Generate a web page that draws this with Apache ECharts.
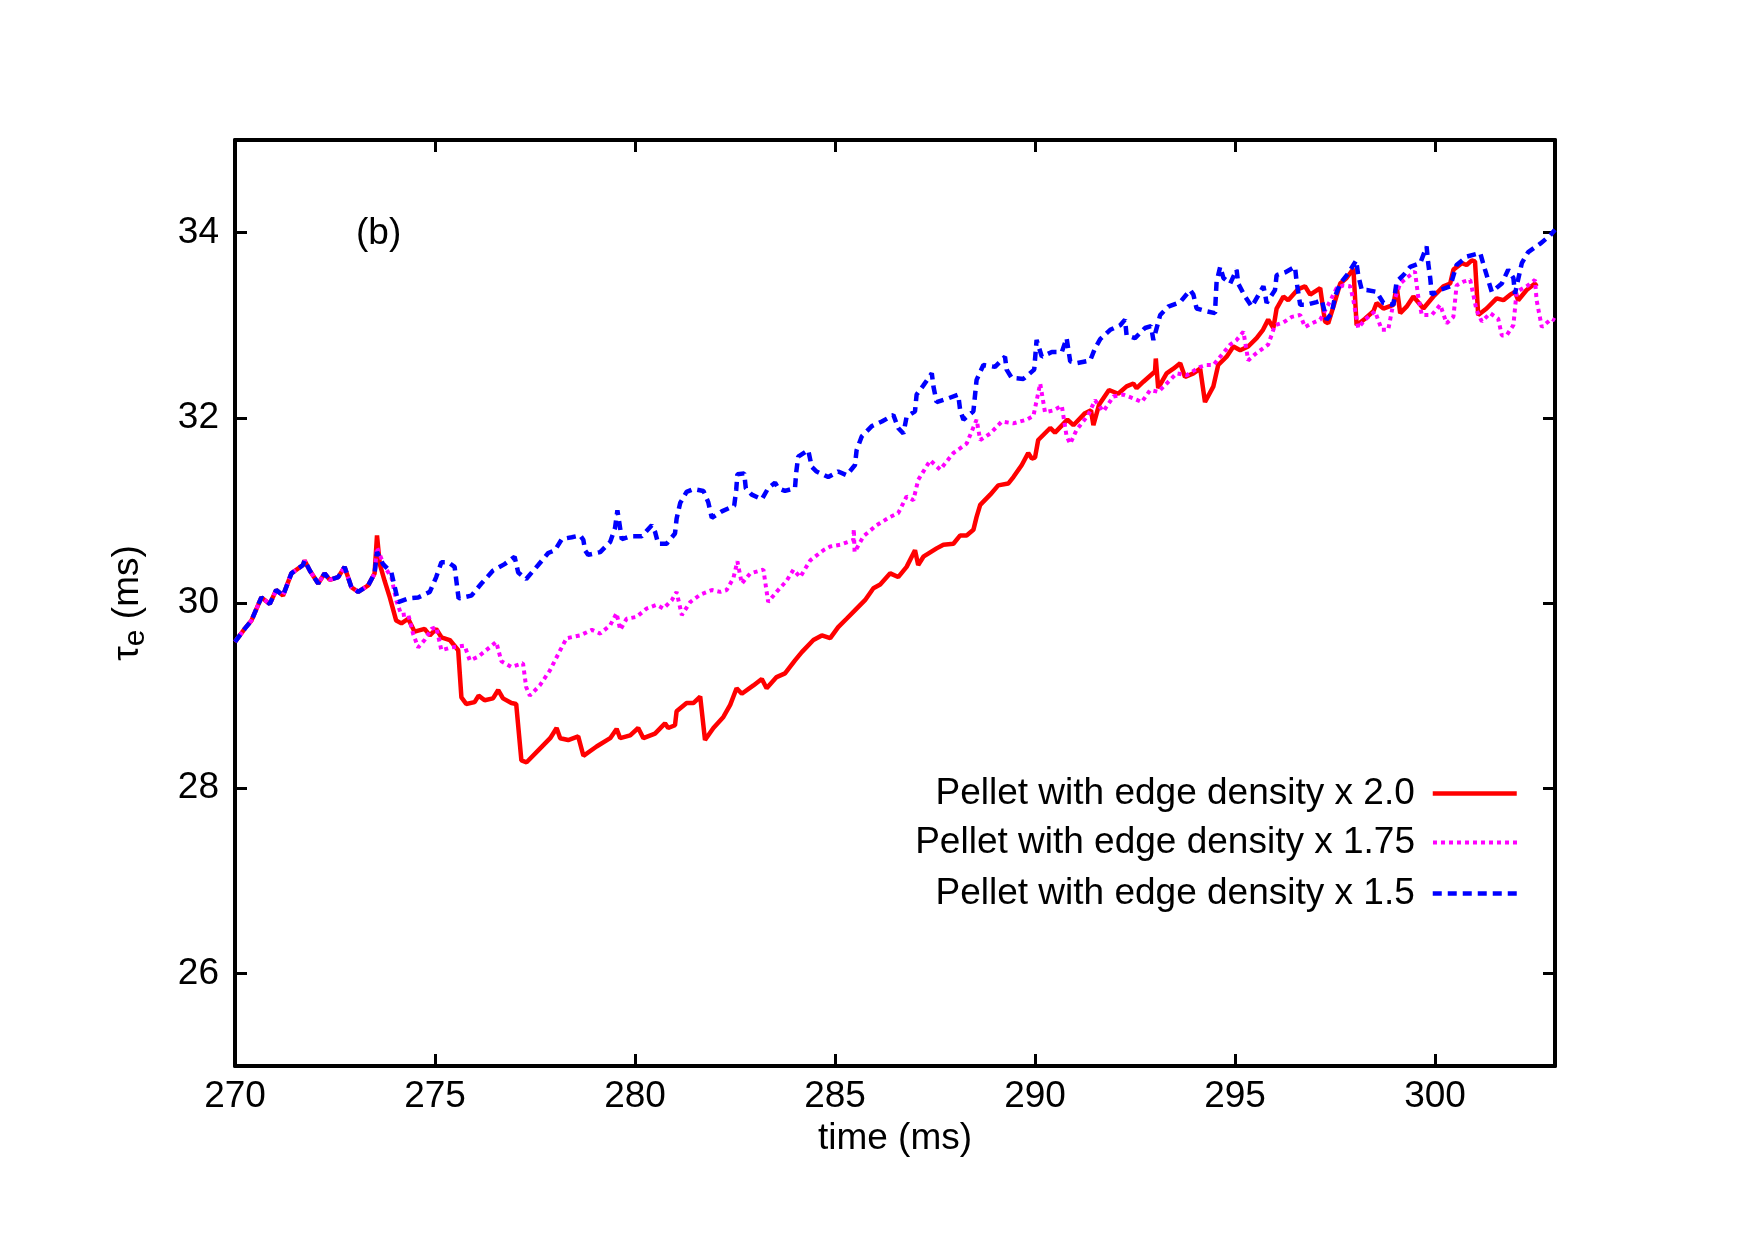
<!DOCTYPE html>
<html>
<head>
<meta charset="utf-8">
<script src="https://cdn.jsdelivr.net/npm/echarts@6/dist/echarts.min.js"></script>
<style>
  html, body { margin: 0; padding: 0; background: #fff; }
  #chart { width: 1755px; height: 1240px; }
</style>
</head>
<body>
<div id="chart"></div>
<script>
// tau_e (ms) against time (ms)

// all three runs share this stretch before the pellet
const common = [
  [270.0, 29.58], [270.24, 29.72], [270.41, 29.81], [270.66, 30.06], [270.87, 29.99],
  [271.03, 30.14], [271.2, 30.08], [271.41, 30.32], [271.7, 30.41], [271.74, 30.46],
  [271.87, 30.35], [272.08, 30.21], [272.24, 30.32], [272.37, 30.25], [272.58, 30.28],
  [272.74, 30.39], [272.91, 30.17], [273.08, 30.12], [273.33, 30.19], [273.49, 30.32]
];

const red = [
  [273.55, 30.73], [273.62, 30.42], [273.74, 30.24], [273.87, 30.06], [274.03, 29.81],
  [274.16, 29.78], [274.33, 29.83], [274.49, 29.69], [274.74, 29.72], [274.87, 29.65],
  [275.03, 29.72], [275.16, 29.63], [275.37, 29.6], [275.58, 29.49], [275.66, 28.98],
  [275.78, 28.91], [275.99, 28.93], [276.09, 29.0], [276.24, 28.95], [276.45, 28.97],
  [276.58, 29.06], [276.7, 28.97], [276.91, 28.92], [277.03, 28.91], [277.16, 28.3],
  [277.29, 28.28], [277.63, 28.43], [277.88, 28.54], [278.04, 28.65], [278.13, 28.54],
  [278.33, 28.52], [278.58, 28.56], [278.71, 28.35], [279.04, 28.45], [279.38, 28.54],
  [279.54, 28.64], [279.63, 28.54], [279.88, 28.57], [280.08, 28.65], [280.21, 28.54],
  [280.5, 28.59], [280.75, 28.7], [280.83, 28.65], [281.0, 28.68], [281.04, 28.83],
  [281.29, 28.92], [281.46, 28.92], [281.63, 28.99], [281.75, 28.52], [281.96, 28.65],
  [282.21, 28.77], [282.38, 28.9], [282.54, 29.08], [282.67, 29.02], [282.96, 29.11],
  [283.17, 29.18], [283.29, 29.08], [283.54, 29.2], [283.75, 29.24], [284.0, 29.38],
  [284.17, 29.47], [284.46, 29.6], [284.67, 29.65], [284.88, 29.62], [285.08, 29.74],
  [285.29, 29.83], [285.54, 29.94], [285.75, 30.03], [285.96, 30.16], [286.13, 30.2],
  [286.38, 30.32], [286.58, 30.28], [286.79, 30.39], [287.0, 30.57], [287.08, 30.41],
  [287.21, 30.5], [287.54, 30.59], [287.71, 30.63], [287.96, 30.64], [288.13, 30.73],
  [288.29, 30.73], [288.46, 30.79], [288.54, 30.93], [288.63, 31.06], [288.88, 31.17],
  [289.08, 31.27], [289.33, 31.29], [289.46, 31.36], [289.67, 31.49], [289.83, 31.62],
  [289.92, 31.56], [290.0, 31.57], [290.08, 31.76], [290.38, 31.89], [290.5, 31.84],
  [290.81, 31.98], [290.96, 31.92], [291.25, 32.05], [291.4, 32.08], [291.46, 31.92],
  [291.6, 32.14], [291.85, 32.3], [292.08, 32.26], [292.29, 32.34], [292.46, 32.37],
  [292.54, 32.32], [292.71, 32.39], [293.0, 32.5], [293.02, 32.64], [293.08, 32.32],
  [293.29, 32.48], [293.46, 32.53], [293.63, 32.59], [293.75, 32.44], [293.96, 32.48],
  [294.13, 32.53], [294.25, 32.17], [294.46, 32.34], [294.58, 32.57], [294.79, 32.66],
  [294.96, 32.77], [295.13, 32.73], [295.33, 32.77], [295.54, 32.86], [295.7, 32.95],
  [295.83, 33.06], [295.96, 32.97], [296.04, 33.18], [296.21, 33.31], [296.33, 33.27],
  [296.58, 33.39], [296.75, 33.42], [296.88, 33.33], [297.13, 33.4], [297.17, 33.38],
  [297.25, 33.04], [297.33, 33.02], [297.46, 33.2], [297.63, 33.45], [297.79, 33.51],
  [297.96, 33.61], [298.04, 33.0], [298.25, 33.07], [298.46, 33.15], [298.54, 33.24],
  [298.71, 33.18], [298.96, 33.22], [299.04, 33.42], [299.13, 33.13], [299.29, 33.2],
  [299.46, 33.31], [299.71, 33.18], [299.96, 33.31], [300.21, 33.42], [300.38, 33.45],
  [300.46, 33.6], [300.67, 33.67], [300.79, 33.65], [300.92, 33.7], [301.0, 33.69],
  [301.08, 33.11], [301.29, 33.18], [301.54, 33.29], [301.71, 33.27], [301.88, 33.33],
  [302.0, 33.36], [302.08, 33.27], [302.29, 33.38], [302.5, 33.45], [302.54, 33.42]
];

const magenta = [
  [273.55, 30.6], [273.74, 30.39], [273.91, 30.28], [274.03, 30.03], [274.16, 29.87],
  [274.33, 29.88], [274.45, 29.67], [274.58, 29.52], [274.74, 29.6], [274.91, 29.72],
  [275.03, 29.74], [275.16, 29.49], [275.41, 29.52], [275.74, 29.54], [275.87, 29.38],
  [276.08, 29.42], [276.28, 29.49], [276.53, 29.58], [276.66, 29.37], [276.91, 29.31],
  [277.2, 29.35], [277.28, 29.09], [277.37, 29.0], [277.62, 29.11], [277.87, 29.27],
  [278.13, 29.49], [278.29, 29.62], [278.63, 29.65], [278.92, 29.71], [279.13, 29.67],
  [279.38, 29.76], [279.54, 29.89], [279.63, 29.71], [279.79, 29.83], [280.04, 29.85],
  [280.29, 29.94], [280.54, 29.98], [280.71, 29.94], [280.92, 30.03], [281.04, 30.12],
  [281.17, 29.87], [281.38, 30.01], [281.63, 30.09], [281.92, 30.14], [282.13, 30.12],
  [282.29, 30.14], [282.46, 30.27], [282.56, 30.45], [282.67, 30.21], [282.88, 30.32],
  [283.21, 30.36], [283.33, 30.01], [283.54, 30.12], [283.79, 30.24], [283.96, 30.36],
  [284.13, 30.28], [284.38, 30.46], [284.71, 30.57], [284.88, 30.61], [285.13, 30.63],
  [285.46, 30.68], [285.47, 30.8], [285.49, 30.55], [285.71, 30.72], [286.04, 30.84],
  [286.38, 30.93], [286.58, 30.97], [286.79, 31.15], [286.96, 31.11], [287.08, 31.33],
  [287.38, 31.54], [287.63, 31.44], [287.96, 31.62], [288.29, 31.72], [288.54, 31.98],
  [288.63, 31.76], [288.88, 31.83], [289.17, 31.96], [289.46, 31.94], [289.79, 31.98],
  [289.96, 32.02], [290.13, 32.37], [290.25, 32.06], [290.46, 32.08], [290.67, 32.13],
  [290.79, 31.8], [290.88, 31.72], [291.04, 31.87], [291.33, 32.03], [291.5, 32.19],
  [291.71, 32.07], [291.96, 32.23], [292.21, 32.25], [292.46, 32.21], [292.67, 32.17],
  [292.88, 32.3], [293.08, 32.28], [293.29, 32.37], [293.54, 32.48], [293.79, 32.46],
  [294.13, 32.55], [294.29, 32.57], [294.46, 32.57], [294.63, 32.66], [294.88, 32.79],
  [295.04, 32.84], [295.21, 32.93], [295.33, 32.62], [295.54, 32.7], [295.83, 32.79],
  [296.0, 33.0], [296.21, 33.03], [296.42, 33.09], [296.63, 33.11], [296.75, 32.98],
  [296.92, 33.02], [297.13, 33.06], [297.33, 33.22], [297.54, 33.4], [297.71, 33.43],
  [297.88, 33.42], [297.96, 33.27], [298.08, 32.97], [298.25, 33.06], [298.5, 33.15],
  [298.67, 32.95], [298.83, 32.95], [298.96, 33.24], [299.13, 33.45], [299.29, 33.51],
  [299.5, 33.58], [299.58, 33.31], [299.67, 33.11], [299.92, 33.11], [300.13, 33.22],
  [300.29, 33.02], [300.46, 33.09], [300.54, 33.43], [300.71, 33.47], [300.88, 33.49],
  [301.04, 33.16], [301.17, 33.04], [301.38, 33.13], [301.58, 33.07], [301.67, 32.89],
  [301.79, 32.89], [301.96, 33.0], [302.04, 33.36], [302.29, 33.42], [302.5, 33.49],
  [302.54, 33.27], [302.67, 32.98], [302.92, 33.07], [303.0, 33.05]
];

const blue = [
  [273.55, 30.55], [273.7, 30.42], [273.91, 30.33], [274.08, 30.01], [274.33, 30.05],
  [274.58, 30.06], [274.87, 30.12], [275.03, 30.28], [275.16, 30.44], [275.33, 30.44],
  [275.49, 30.39], [275.59, 30.05], [275.91, 30.08], [276.16, 30.21], [276.45, 30.35],
  [276.74, 30.42], [276.99, 30.5], [277.08, 30.33], [277.28, 30.26], [277.58, 30.41],
  [277.83, 30.54], [278.0, 30.57], [278.17, 30.69], [278.42, 30.71], [278.63, 30.73],
  [278.71, 30.68], [278.75, 30.57], [278.83, 30.52], [279.13, 30.55], [279.38, 30.66],
  [279.5, 30.81], [279.56, 31.0], [279.61, 30.86], [279.67, 30.69], [279.88, 30.72],
  [280.17, 30.72], [280.42, 30.84], [280.5, 30.77], [280.58, 30.64], [280.79, 30.64],
  [281.0, 30.75], [281.04, 30.91], [281.13, 31.08], [281.29, 31.2], [281.46, 31.23],
  [281.71, 31.21], [281.83, 31.09], [281.92, 30.92], [282.17, 30.99], [282.48, 31.05],
  [282.53, 31.22], [282.56, 31.39], [282.73, 31.4], [282.77, 31.24], [282.92, 31.17],
  [283.17, 31.12], [283.33, 31.24], [283.5, 31.3], [283.58, 31.24], [283.75, 31.21],
  [284.0, 31.24], [284.03, 31.41], [284.08, 31.58], [284.33, 31.65], [284.42, 31.47],
  [284.54, 31.42], [284.83, 31.36], [285.08, 31.42], [285.29, 31.38], [285.5, 31.49],
  [285.54, 31.65], [285.67, 31.8], [285.92, 31.91], [286.17, 31.96], [286.46, 32.03],
  [286.58, 31.89], [286.71, 31.83], [286.79, 32.01], [287.0, 32.07], [287.04, 32.25],
  [287.21, 32.35], [287.42, 32.48], [287.46, 32.34], [287.54, 32.17], [287.83, 32.21],
  [288.08, 32.25], [288.13, 32.08], [288.21, 31.98], [288.46, 32.07], [288.54, 32.41],
  [288.71, 32.57], [289.0, 32.55], [289.25, 32.66], [289.29, 32.52], [289.42, 32.43],
  [289.71, 32.42], [289.98, 32.52], [290.04, 32.84], [290.17, 32.66], [290.42, 32.71],
  [290.67, 32.71], [290.79, 32.86], [290.88, 32.61], [291.04, 32.59], [291.38, 32.62],
  [291.5, 32.75], [291.63, 32.85], [291.88, 32.95], [292.13, 33.0], [292.25, 33.06],
  [292.29, 32.89], [292.5, 32.86], [292.75, 32.97], [292.9, 32.99], [292.96, 32.84],
  [293.13, 33.11], [293.33, 33.2], [293.63, 33.25], [293.88, 33.38], [293.96, 33.33],
  [294.04, 33.18], [294.29, 33.15], [294.5, 33.13], [294.52, 33.31], [294.54, 33.47],
  [294.63, 33.63], [294.71, 33.51], [294.88, 33.45], [295.04, 33.6], [295.08, 33.45],
  [295.25, 33.31], [295.42, 33.2], [295.71, 33.42], [295.75, 33.34], [295.79, 33.24],
  [296.0, 33.38], [296.04, 33.54], [296.25, 33.57], [296.5, 33.63], [296.54, 33.47],
  [296.63, 33.22], [296.79, 33.22], [297.04, 33.25], [297.17, 33.27], [297.29, 33.06],
  [297.42, 33.13], [297.5, 33.31], [297.63, 33.45], [297.83, 33.56], [298.03, 33.7],
  [298.08, 33.54], [298.17, 33.38], [298.29, 33.38], [298.54, 33.36], [298.71, 33.24],
  [298.96, 33.22], [299.04, 33.47], [299.21, 33.54], [299.38, 33.63], [299.63, 33.67],
  [299.79, 33.85], [299.83, 33.67], [299.88, 33.51], [299.92, 33.33], [300.13, 33.38],
  [300.38, 33.42], [300.54, 33.65], [300.79, 33.74], [301.13, 33.78], [301.25, 33.6],
  [301.42, 33.36], [301.67, 33.45], [301.83, 33.6], [301.96, 33.51], [302.0, 33.34],
  [302.17, 33.67], [302.33, 33.79], [302.63, 33.88], [302.88, 33.97], [303.0, 34.03]
];

const xTicks = [270, 275, 280, 285, 290, 295, 300];
const yTicks = [26, 28, 30, 32, 34];
const names  = [
  "Pellet with edge density x 2.0",
  "Pellet with edge density x 1.75",
  "Pellet with edge density x 1.5"
];

const FONT = "Liberation Sans, Arial, Helvetica, sans-serif";
const FS   = 37;

const lineStyles = [
  { color: "#ff0000", width: 4.5, type: "solid" },
  { color: "#ff00ff", width: 4,   type: [4, 4] },
  { color: "#0000ff", width: 4.5, type: [9, 6] },
];

function frameAxis(ticks, showLabels, extra) {
  return Object.assign({
    type: "value",
    axisLine: { show: true, onZero: false, lineStyle: { color: "#000", width: 4 } },
    axisTick: { show: true, inside: true, length: 12, customValues: ticks,
                lineStyle: { color: "#000", width: 3 } },
    axisLabel: { show: showLabels, customValues: ticks, color: "#000",
                 fontFamily: FONT, fontSize: FS },
    splitLine: { show: false },
  }, extra);
}

// one legend per series so that each line sample lines up on the right
function legendFor(i, top) {
  return {
    data: [names[i]],
    orient: "vertical",
    align: "right",
    right: 236,
    top: top,
    padding: 0,
    itemWidth: 84,
    itemHeight: 4,
    selectedMode: false,
    itemStyle: { opacity: 0 },
    lineStyle: { width: lineStyles[i].width, type: lineStyles[i].type, color: lineStyles[i].color },
    textStyle: { color: "#000", fontFamily: FONT, fontSize: FS, padding: [0, 13, 0, 0] },
  };
}

function seriesFor(i, tail) {
  return {
    name: names[i], type: "line", symbol: "none", showSymbol: false,
    data: common.concat(tail), z: 3 + i,
    lineStyle: lineStyles[i],
    itemStyle: { color: lineStyles[i].color },
  };
}

let chart = echarts.init(document.getElementById("chart"));

chart.setOption({
  animation: false,
  backgroundColor: "#fff",
  title: {
    text: "(b)",
    left: 351,
    top: 210,
    textStyle: { color: "#000", fontFamily: FONT, fontSize: FS, fontWeight: "normal" },
  },
  legend: [
    legendFor(0, 775),
    legendFor(1, 824),
    legendFor(2, 875),
  ],
  grid: { left: 235, right: 200, top: 140, bottom: 174, containLabel: false },
  xAxis: [
    frameAxis(xTicks, true, {
      min: 270, max: 303, position: "bottom",
      name: "time (ms)", nameLocation: "middle", nameGap: 54,
      nameTextStyle: { color: "#000", fontFamily: FONT, fontSize: FS },
      axisLabel: { show: true, customValues: xTicks, color: "#000",
                   fontFamily: FONT, fontSize: FS, margin: 12 },
    }),
    frameAxis(xTicks, false, { min: 270, max: 303, position: "top" }),
  ],
  yAxis: [
    frameAxis(yTicks, true, {
      min: 25, max: 35, position: "left",
      name: "{t|τ}{s|e} (ms)", nameLocation: "middle", nameGap: 84,
      nameTextStyle: {
        color: "#000", fontFamily: FONT, fontSize: FS,
        rich: {
          t: { fontFamily: FONT, fontSize: FS, color: "#000" },
          s: { fontFamily: FONT, fontSize: 30, color: "#000", padding: [16, 0, 0, 0] },
        },
      },
      axisLabel: { show: true, customValues: yTicks, color: "#000",
                   fontFamily: FONT, fontSize: FS, margin: 16 },
    }),
    frameAxis(yTicks, false, { min: 25, max: 35, position: "right" }),
  ],
  series: [
    seriesFor(0, red),
    seriesFor(1, magenta),
    seriesFor(2, blue),
  ],
});
</script>
</body>
</html>
